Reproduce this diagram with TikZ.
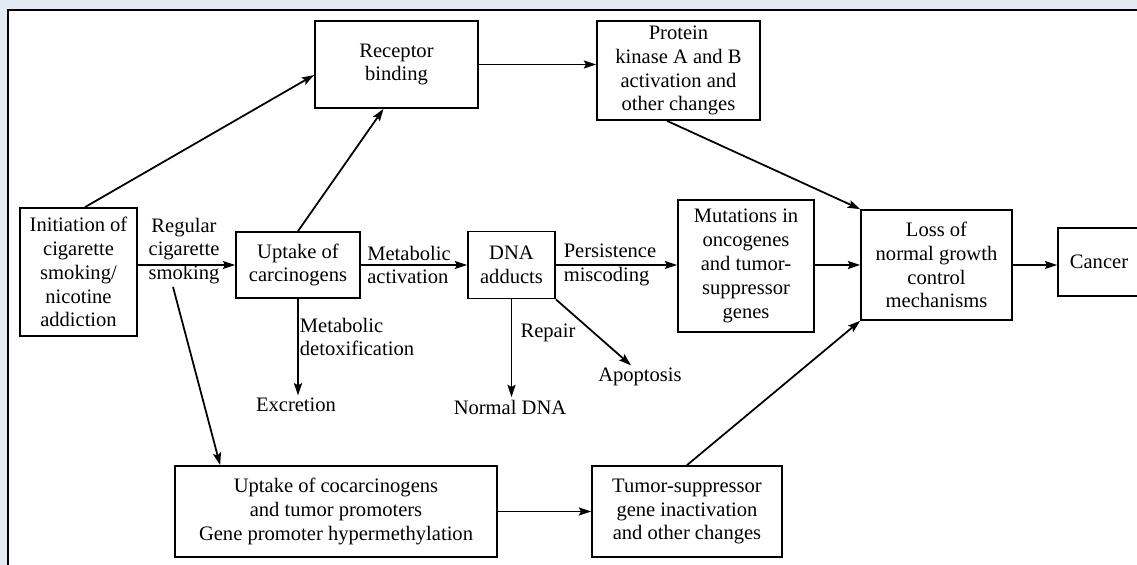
\documentclass[tikz,border=0pt]{standalone}
\usepackage{fontspec}
\setmainfont{Liberation Serif}
\usepackage{tikz}
\usetikzlibrary{arrows.meta}
\definecolor{pagebg}{RGB}{227,234,243}

\begin{document}
\begin{tikzpicture}[x=0.02cm,y=-0.02cm,line width=1pt,
    >={Stealth[length=7pt,width=4.6pt,inset=1.2pt]},
    box/.style={draw,line width=1pt,align=center,inner sep=0pt,font=\fontsize{11.7}{13.6}\selectfont},
    lbl/.style={align=center,inner sep=1pt,font=\fontsize{11.7}{13.6}\selectfont}]
            \useasboundingbox (0,0) rectangle (1137,565);
            \fill[pagebg] (0,0) rectangle (1137,565);
            \clip (0,0) rectangle (1137,565);
            \draw[line width=1.2pt,fill=white] (8,10) rectangle (1160,590);

            \node[box,minimum width=2.34cm,minimum height=2.56cm] (init) at (78.5,272) {Initiation of\\cigarette\\smoking/\\nicotine\\addiction};
            \node[box,minimum width=3.26cm,minimum height=1.74cm] (rec) at (396.5,64.5) {Receptor\\binding};
            \node[box,minimum width=3.26cm,minimum height=1.98cm] (pka) at (678.5,70.5) {Protein\\kinase A and B\\activation and\\other changes};
            \node[box,minimum width=2.48cm,minimum height=1.32cm] (upt) at (298,265) {Uptake of\\carcinogens};
            \node[box,minimum width=1.74cm,minimum height=1.34cm] (dna) at (511.5,265) {DNA\\adducts};
            \node[box,minimum width=2.72cm,minimum height=2.64cm] (mut) at (746,266) {Mutations in\\oncogenes\\and tumor-\\suppressor\\genes};
            \node[box,minimum width=3.02cm,minimum height=2.2cm] (loss) at (936.5,265) {Loss of\\normal growth\\control\\mechanisms};
            \node[box,minimum width=1.64cm,minimum height=1.36cm] (cancer) at (1099,262) {Cancer};
            \node[box,minimum width=6.44cm,minimum height=1.82cm] (coc) at (336,511.5) {Uptake of cocarcinogens\\and tumor promoters\\Gene promoter hypermethylation};
            \node[box,minimum width=3.8cm,minimum height=1.82cm] (tsg) at (687,511.5) {Tumor-suppressor\\gene inactivation\\and other changes};

            \node[lbl] (reg) at (184,251) {Regular\\cigarette\\smoking};
            \node[lbl,align=left] (metact) at (409,265) {Metabolic\\activation};
            \node[lbl,align=left] (pers) at (610,265) {Persistence\\miscoding};
            \node[lbl,align=left] (detox) at (357,337) {Metabolic\\detoxification};
            \node[lbl] (excr) at (296,405) {Excretion};
            \node[lbl] (repair) at (548,333) {Repair};
            \node[lbl] (apop) at (640,377) {Apoptosis};
            \node[lbl] (ndna) at (510,407) {Normal DNA};

            \draw[->] ([xshift=0.13cm]init.north) -- ([yshift=-0.21cm]rec.west);
            \draw[->] (upt.north) -- ([xshift=-0.26cm]rec.south);
            \draw[->] (rec.east) -- (rec.east -| pka.west);
            \draw[->] ([xshift=-0.23cm]pka.south) -- (loss.north west);
            \draw[->] (init.east |- upt.west) -- (upt.west);
            \draw[->] (upt.east) -- (dna.west);
            \draw[->] (dna.east) -- (dna.east -| mut.west);
            \draw[->] (mut.east |- loss.west) -- (loss.west);
            \draw[->] (loss.east) -- (loss.east -| cancer.west);
            \draw[->] ([xshift=-0.22cm]reg.south) -- ([xshift=0.92cm]coc.north west);
            \draw[->] (upt.south) -- (upt.south |- excr.north);
            \draw[->] (dna.south) -- (dna.south |- ndna.north);
            \draw[->] (dna.south east) -- ([xshift=-0.18cm]apop.north);
            \draw[->] (coc.east) -- (tsg.west);
            \draw[->] (tsg.north) -- (loss.south west);
        \end{tikzpicture}
\end{document}
